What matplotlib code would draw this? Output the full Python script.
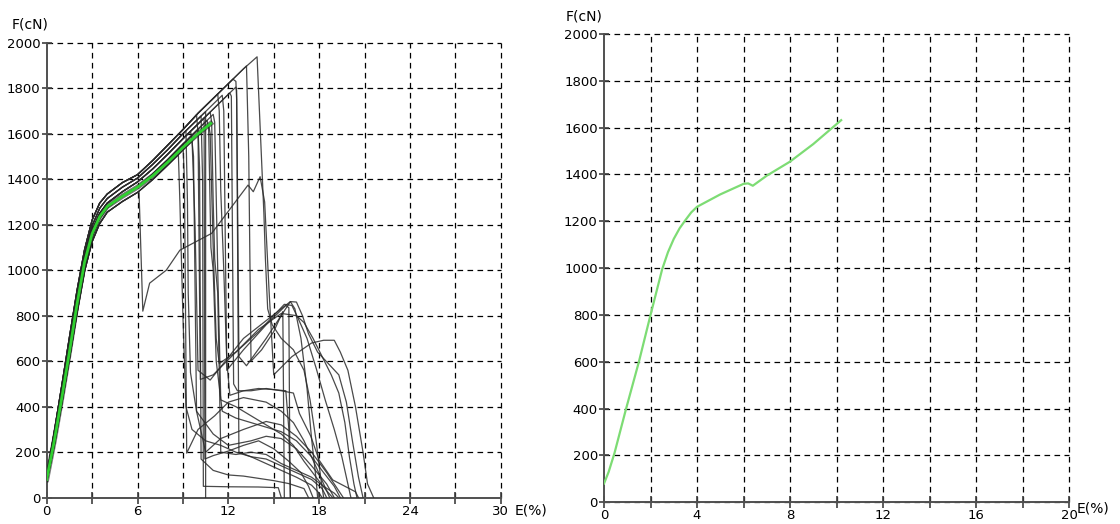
import matplotlib
matplotlib.use("Agg")
import matplotlib.pyplot as plt

# ---------------- data ----------------
# strain grid of the rising bundle curves, E(%)
base_x = [0, 0.5, 1, 1.5, 2, 2.5, 3, 3.5, 4, 5, 6, 7, 8, 9, 10, 11, 12, 13, 14]
# five envelope curves of the rising bundle, F(cN)
base_A = [95, 290, 495, 705, 910, 1090, 1220, 1295, 1335, 1385, 1420, 1482, 1550, 1618, 1690, 1755, 1820, 1885, 1945]
base_B = [88, 272, 470, 678, 885, 1065, 1195, 1272, 1315, 1365, 1405, 1465, 1530, 1600, 1665, 1730, 1795, 1860]
base_C = [82, 258, 452, 655, 860, 1042, 1172, 1250, 1295, 1345, 1388, 1445, 1510, 1578, 1643, 1708, 1773]
base_D = [76, 244, 434, 632, 835, 1018, 1148, 1228, 1275, 1325, 1366, 1422, 1486, 1554, 1620, 1685, 1750]
base_E = [70, 230, 415, 610, 810, 995, 1125, 1205, 1255, 1302, 1342, 1398, 1462, 1528, 1595, 1660]

# specimen: which envelope it follows, break strain, break force
spec_base = ["A", "A", "C", "C", "B", "D", "E", "C", "B", "D", "A", "E",
             "C", "B", "D", "E", "B", "E", "A", "C", "D", "A"]
spec_break_x = [13.9, 13.2, 12.5, 12.1, 11.6, 11.0, 10.7, 10.4, 10.2, 10.0, 9.9, 9.6,
                9.5, 9.2, 9.0, 8.7, 10.5, 6.1, 11.3, 10.8, 10.6, 12.3]
spec_break_f = [1938, 1898, 1805, 1779, 1769, 1685, 1640, 1669, 1678, 1620, 1683, 1568,
                1610, 1613, 1554, 1508, 1697, 1345, 1775, 1695, 1659, 1840]

# post-break parts of every specimen, (E %, F cN)
t01 = [(14.35, 1250), (14.45, 1050), (14.6, 830), (14.9, 760), (15.5, 700), (16.3, 650), (17.0, 560), (17.4, 430), (17.8, 250), (18.1, 90), (18.3, 0)]
t02 = [(13.35, 1500), (13.5, 600), (14.2, 650), (15.0, 730), (15.6, 818), (15.65, 420), (15.7, 0)]
t03 = [(12.55, 1790), (12.7, 620), (13.2, 580), (14.5, 700), (16.1, 862), (16.4, 830), (16.8, 700), (17.2, 480), (17.5, 260), (17.8, 80), (17.9, 0)]
t04 = [(12.2, 1765), (12.35, 500), (12.6, 470), (13.5, 470), (14.5, 480), (15.5, 470), (16.3, 460), (16.7, 370), (17.45, 270), (18.0, 165), (18.9, 78), (20.4, 26), (20.6, 0)]
t05 = [(11.7, 1700), (11.9, 560), (13.0, 650), (14.5, 760), (15.8, 845), (16.0, 835), (16.05, 300), (16.1, 0)]
t06 = [(11.1, 1650), (11.3, 1000), (11.5, 430), (12.5, 400), (13.5, 360), (14.5, 320), (15.5, 280), (16.3, 230), (17.0, 160), (17.8, 90), (18.5, 30), (18.9, 0)]
t07 = [(10.8, 1600), (11.0, 1100), (11.2, 700), (11.4, 590), (12.5, 640), (14.0, 740), (15.5, 810), (16.5, 800), (17.0, 770), (17.6, 700), (18.2, 620), (18.8, 540), (19.3, 460), (19.7, 330), (20.0, 180), (20.3, 60), (20.5, 0)]
t08 = [(10.45, 170), (11.0, 185), (12.0, 205), (13.0, 230), (14.0, 250), (15.0, 215), (16.0, 160), (16.8, 110), (17.3, 50), (17.6, 0)]
t09 = [(10.3, 1400), (10.35, 50), (12.0, 48), (14.0, 47), (15.3, 44), (15.5, 0)]
t10 = [(10.1, 1450), (10.2, 170), (11.0, 120), (12.0, 100), (13.0, 95), (14.0, 85), (15.0, 75), (16.0, 62), (17.0, 40), (17.3, 0)]
t11 = [(10.0, 1600), (10.15, 520), (11.0, 540), (12.5, 640), (14.0, 730), (15.7, 850), (16.2, 845), (16.6, 790), (17.2, 700), (17.8, 570), (18.4, 430), (19.0, 300), (19.5, 180), (19.9, 60), (20.1, 0)]
t12 = [(9.7, 1500), (9.9, 380), (10.5, 200), (11.5, 260), (13.0, 300), (14.5, 335), (15.5, 320), (16.5, 270), (17.5, 200), (18.5, 110), (19.2, 40), (19.6, 0)]
t13 = [(9.6, 1580), (9.8, 1200), (10.0, 560), (10.8, 517), (13.0, 700), (16.1, 862), (16.5, 860), (16.9, 800), (17.3, 720), (17.9, 640), (18.6, 590), (19.3, 540), (19.8, 420), (20.2, 250), (20.6, 90), (20.9, 0)]
t14 = [(9.3, 1300), (9.35, 900), (9.5, 550), (9.9, 380), (11.0, 280), (12.0, 230), (13.5, 250), (14.5, 270), (15.5, 260), (16.5, 215), (17.5, 140), (18.5, 60), (19.0, 0)]
t15 = [(9.1, 1400), (9.25, 196), (10.0, 300), (11.1, 360), (12.0, 420), (13.0, 440), (14.5, 420), (15.5, 380), (16.3, 330), (17.0, 250), (17.7, 150), (18.3, 60), (18.7, 0)]
t16 = [(8.8, 1300), (9.0, 800), (9.2, 400), (9.6, 300), (10.5, 250), (11.5, 230), (12.5, 200), (13.5, 180), (14.5, 150), (15.5, 120), (16.5, 90), (17.5, 55), (18.0, 20), (18.2, 0)]
t17 = [(10.5, 0)]
t18 = [(6.35, 820), (6.8, 943), (7.9, 1000), (8.8, 1088), (10.9, 1162), (13.3, 1374), (13.65, 1345), (14.1, 1411), (14.4, 1300), (14.7, 900), (15.0, 540), (16.2, 620), (17.5, 680), (18.3, 692), (19.0, 692), (19.4, 640), (19.9, 560), (20.4, 400), (20.9, 200), (21.2, 60), (21.6, 0)]
t19 = [(11.4, 1700), (11.5, 1350), (11.7, 1000), (11.9, 600), (12.1, 450), (13.0, 470), (14.0, 480), (15.0, 475), (15.8, 470), (16.0, 300), (16.1, 0)]
t20 = [(10.9, 1650), (11.0, 1300), (11.1, 1050), (11.3, 900), (11.5, 200), (12.5, 190), (13.5, 200), (14.5, 190), (15.5, 150), (16.5, 120), (17.5, 90), (18.3, 50), (19.0, 20), (19.3, 0)]
t21 = [(10.7, 1620), (10.85, 1100), (11.0, 1000), (11.2, 600), (11.6, 380), (12.5, 350), (13.5, 330), (14.5, 310), (15.5, 290), (16.5, 250), (17.5, 180), (18.3, 110), (19.0, 50), (19.4, 0)]
t22 = [(12.5, 1830), (12.55, 1750), (12.7, 200), (13.5, 180), (14.5, 170), (15.5, 140), (16.5, 110), (17.5, 80), (18.2, 40), (18.5, 0)]
tails = [t01, t02, t03, t04, t05, t06, t07, t08, t09, t10, t11, t12,
         t13, t14, t15, t16, t17, t18, t19, t20, t21, t22]

# highlighted (green) specimen in the left panel
green_left_x = [0, 0.5, 1, 1.5, 2, 2.5, 3, 3.5, 4, 5, 6, 7, 8, 9, 10, 10.84]
green_left_f = [80, 250, 440, 640, 850, 1035, 1160, 1235, 1280, 1325, 1365, 1415, 1475, 1540, 1600, 1645]

# selected specimen in the right panel
green_right_x = [0, 0.2, 0.45, 0.95, 1.5, 2.0, 2.5, 2.75, 3.0, 3.25, 3.5, 3.75, 4.0, 5.0, 6.0, 6.2, 6.4, 7.0, 8.0, 9.0, 10.2]
green_right_f = [80, 130, 210, 400, 600, 800, 995, 1068, 1125, 1170, 1205, 1238, 1262, 1315, 1360, 1362, 1352, 1395, 1455, 1530, 1632]

left_xticks = [0, 3, 6, 9, 12, 15, 18, 21, 24, 27, 30]
left_xlabels = ["0", "", "6", "", "12", "", "18", "", "24", "", "30"]
right_xticks = [0, 2, 4, 6, 8, 10, 12, 14, 16, 18, 20]
right_xlabels = ["0", "", "4", "", "8", "", "12", "", "16", "", "20"]
yticks = [0, 200, 400, 600, 800, 1000, 1200, 1400, 1600, 1800, 2000]

bases = {"A": base_A, "B": base_B, "C": base_C, "D": base_D, "E": base_E}

# ---------------- drawing ----------------
plt.rcParams["font.family"] = ["DejaVu Sans"]
plt.rcParams["font.size"] = 9.5

fig = plt.figure(figsize=(11.2, 5.24), dpi=100)
fig.patch.set_facecolor("white")

axL = fig.add_axes([0.0417, 0.0502, 0.4054, 0.8683])
axR = fig.add_axes([0.5393, 0.0414, 0.4152, 0.8937])

DASH = (0, (4.5, 3.5))


def style_axes(ax, xmax, xticks, xlabels, ygrid_from):
    ax.set_xlim(0, xmax)
    ax.set_ylim(0, 2000)
    ax.set_facecolor("white")
    for s in ("top", "right"):
        ax.spines[s].set_visible(False)
    for s in ("left", "bottom"):
        ax.spines[s].set_color("#505050")
        ax.spines[s].set_linewidth(1.4)
    for xv in xticks[1:]:
        ax.axvline(xv, color="black", lw=0.9, ls=DASH, clip_on=False, zorder=1)
    for yv in yticks[ygrid_from:]:
        ax.axhline(yv, color="black", lw=0.9, ls=DASH, clip_on=False, zorder=1)
    ax.set_xticks(xticks)
    ax.set_xticklabels(xlabels)
    ax.set_yticks(yticks)
    ax.tick_params(axis="x", direction="inout", length=8, width=1.2, color="#404040", pad=1)
    ax.tick_params(axis="y", direction="inout", length=7, width=1.2, color="#404040", pad=1)


style_axes(axL, 30, left_xticks, left_xlabels, 1)
style_axes(axR, 20, right_xticks, right_xlabels, 0)

# left panel: all specimens
for bname, bx, bf, tail in zip(spec_base, spec_break_x, spec_break_f, tails):
    bf_list = bases[bname]
    xs = [x for x in base_x[:len(bf_list)] if x < bx]
    fs = bf_list[:len(xs)]
    xs = xs + [bx] + [p[0] for p in tail]
    fs = list(fs) + [bf] + [p[1] for p in tail]
    axL.plot(xs, fs, color="#2a2a2a", lw=0.9, alpha=0.85, zorder=3, solid_joinstyle="round")

axL.plot(green_left_x, green_left_f, color="#1f1f1f", lw=3.6, zorder=4, alpha=0.6)
axL.plot(green_left_x, green_left_f, color="#2fd02f", lw=2.0, zorder=5)

# right panel: selected specimen
axR.plot(green_right_x, green_right_f, color="#7ddc74", lw=1.6, zorder=5)

# axis titles
fig.text(12 / 1120, 1 - 29 / 524, "F(cN)", fontsize=10, ha="left", va="baseline")
fig.text(566 / 1120, 1 - 21 / 524, "F(cN)", fontsize=10, ha="left", va="baseline")
fig.text(515 / 1120, 1 - 514 / 524, "E(%)", fontsize=10, ha="left", va="baseline")
fig.text(1077 / 1120, 1 - 512 / 524, "E(%)", fontsize=10, ha="left", va="baseline")

fig.savefig("out.png", dpi=100, facecolor="white")
